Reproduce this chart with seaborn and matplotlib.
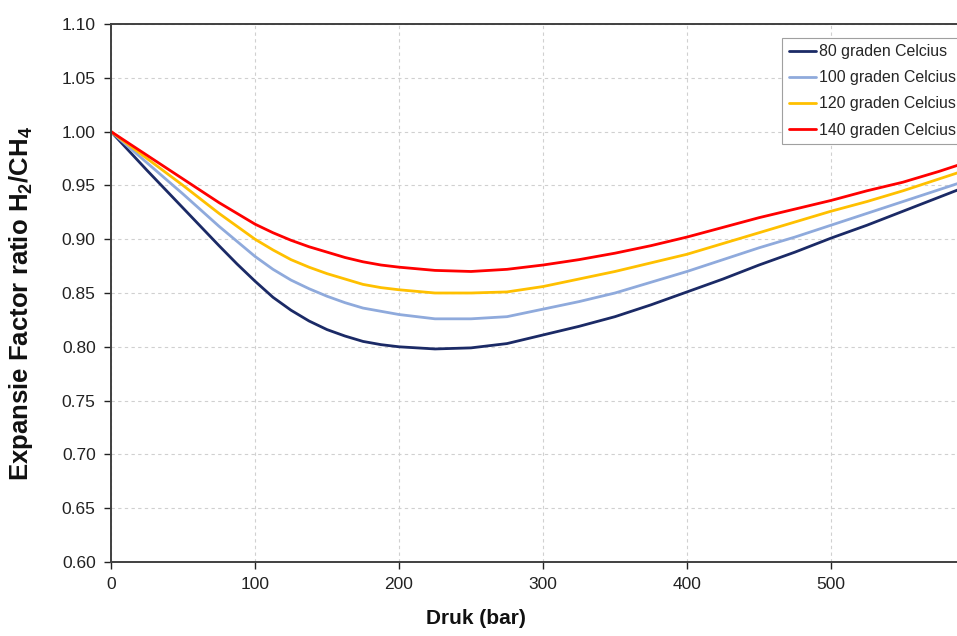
import numpy as np
import pandas as pd
import matplotlib
matplotlib.use("Agg")
import matplotlib.pyplot as plt
import seaborn as sns

pressure = [0, 25, 50, 75, 87.5, 100, 112.5, 125, 137.5, 150, 162.5, 175, 187.5, 200,
            225, 250, 275, 300, 325, 350, 375, 400, 425, 450, 475, 500, 525, 550, 575, 600]
t80 = [1.000, 0.964, 0.929, 0.894, 0.877, 0.861, 0.846, 0.834, 0.824, 0.816, 0.810, 0.805, 0.802, 0.800,
       0.798, 0.799, 0.803, 0.811, 0.819, 0.828, 0.839, 0.851, 0.863, 0.876, 0.888, 0.901, 0.913, 0.926,
       0.939, 0.952]
t100 = [1.000, 0.971, 0.942, 0.912, 0.898, 0.884, 0.872, 0.862, 0.854, 0.847, 0.841, 0.836, 0.833, 0.830,
        0.826, 0.826, 0.828, 0.835, 0.842, 0.850, 0.860, 0.870, 0.881, 0.892, 0.902, 0.913, 0.924, 0.935,
        0.946, 0.957]
t120 = [1.000, 0.975, 0.950, 0.924, 0.912, 0.900, 0.890, 0.881, 0.874, 0.868, 0.863, 0.858, 0.855, 0.853,
        0.850, 0.850, 0.851, 0.856, 0.863, 0.870, 0.878, 0.886, 0.896, 0.906, 0.916, 0.926, 0.935, 0.945,
        0.956, 0.967]
t140 = [1.000, 0.978, 0.956, 0.934, 0.924, 0.914, 0.906, 0.899, 0.893, 0.888, 0.883, 0.879, 0.876, 0.874,
        0.871, 0.870, 0.872, 0.876, 0.881, 0.887, 0.894, 0.902, 0.911, 0.920, 0.928, 0.936, 0.945, 0.953,
        0.963, 0.974]
series_names = ["80 graden Celcius", "100 graden Celcius", "120 graden Celcius", "140 graden Celcius"]
colors = ["#1B2A66", "#8FAADC", "#FFC000", "#FF0000"]
xticks = [0, 100, 200, 300, 400, 500]
yticks = [0.60, 0.65, 0.70, 0.75, 0.80, 0.85, 0.90, 0.95, 1.00, 1.05, 1.10]

frames = []
for name, vals in zip(series_names, [t80, t100, t120, t140]):
    frames.append(pd.DataFrame({"Druk": pressure, "Factor": vals, "Serie": name}))
df = pd.concat(frames, ignore_index=True)

sns.set_style("white")
plt.rcParams["font.family"] = ["Liberation Sans", "DejaVu Sans"]
plt.rcParams["mathtext.fontset"] = "custom"
plt.rcParams["mathtext.rm"] = "Liberation Sans"
plt.rcParams["mathtext.bf"] = "Liberation Sans:bold"

fig = plt.figure(figsize=(9.57, 6.36), dpi=100)
ax = fig.add_axes([111 / 957, 74 / 636, 864 / 957, 538 / 636])

sns.lineplot(data=df, x="Druk", y="Factor", hue="Serie", hue_order=series_names,
             palette=colors, linewidth=2.0, ax=ax, legend=True)
for ln in ax.get_lines():
    ln.set_solid_joinstyle("round")

ax.set_xlim(0, 600)
ax.set_ylim(0.60, 1.10)
ax.set_xticks(xticks)
ax.set_xticklabels([str(v) for v in xticks])
ax.set_yticks(yticks)
ax.set_yticklabels([f"{v:.2f}" for v in yticks])
ax.tick_params(axis="both", labelsize=12.5, colors="#222222", length=5, width=1,
               direction="out", left=True, bottom=True, pad=6)
ax.grid(True, color="#D0D0D0", linestyle=(0, (3, 3)), linewidth=0.8)
for side in ["left", "bottom", "top", "right"]:
    ax.spines[side].set_color("#404040")
    ax.spines[side].set_linewidth(1.4)

ax.set_xlabel("Druk (bar)", fontsize=15, fontweight="bold", color="#111111")
ax.xaxis.set_label_coords(0.4225, -0.088)
ax.set_ylabel(r"Expansie Factor ratio H$_{\mathbf{2}}$/CH$_{\mathbf{4}}$",
              fontsize=18.5, fontweight="bold", color="#111111")
ax.yaxis.set_label_coords(-0.088, 0.481)

leg = ax.legend(loc="upper left", bbox_to_anchor=(0.777, 0.974), fontsize=11.4,
                frameon=True, fancybox=False, framealpha=1, edgecolor="#A0A0A0",
                handlelength=1.75, handletextpad=0.15, labelspacing=0.7,
                borderpad=0.4, borderaxespad=0)
leg.get_frame().set_linewidth(0.8)
for line in leg.get_lines():
    line.set_linewidth(2.0)

fig.savefig("out.png", dpi=100)
